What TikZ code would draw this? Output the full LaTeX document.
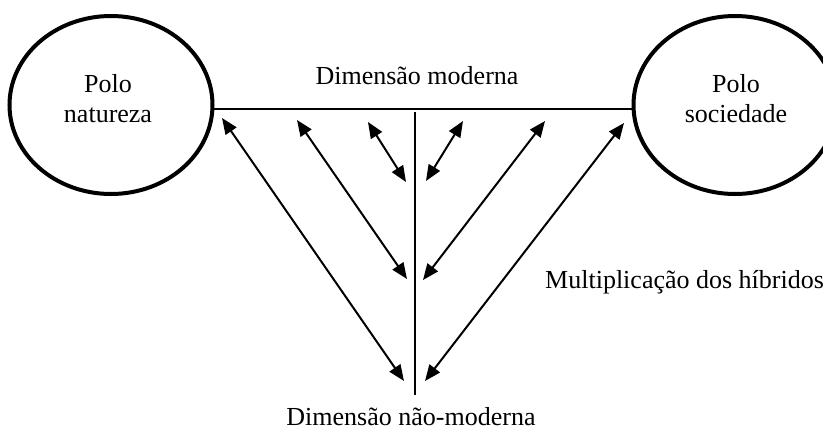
\documentclass[tikz,border=0pt]{standalone}
\usepackage{fontspec}
\setmainfont{Liberation Serif}
\usepackage{tikz}
\usetikzlibrary{shapes.geometric, arrows.meta, positioning, calc}
\tikzset{
    polo/.style={
        ellipse, draw, line width=4pt,
        minimum width=203pt, minimum height=178pt, inner sep=0pt
    },
    rotulo/.style={font=\fontsize{26}{30}\selectfont, align=center, inner sep=0pt},
    eixo/.style={draw, line width=2.4pt},
    hibrido/.style={line width=2pt, {Triangle[length=16pt,width=13pt]}-{Triangle[length=16pt,width=13pt]}}
}
\begin{document}
\begin{tikzpicture}[x=1pt, y=-1pt]
        \clip (0,0) rectangle (823,432);
        \node[polo] (natureza) at (111,105) {};
        \node[polo] (sociedade) at (735,105) {};
        \node[rotulo] (txtnatureza) at (108,99) {Polo\\natureza};
        \node[rotulo] (txtsociedade) at (736,99) {Polo\\sociedade};
        \node[rotulo, anchor=base] (moderna) at (417,84) {Dimensão moderna};
        \node[rotulo, anchor=base] (naomoderna) at (411,425) {Dimensão não-moderna};
        \node[rotulo, anchor=base west] (hibridos) at (545,288) {Multiplicação dos híbridos};

        % eixos
        \coordinate (topo) at (415,112);
        \coordinate (base) at (415,395);
        \draw[eixo] ($(natureza.east)+(-1,4)$) -- ($(sociedade.west)+(1,4)$);
        \draw[eixo] (topo) -- (base);

        % hibridos
        \coordinate (e1) at (222,118);
        \coordinate (e2) at (297,120);
        \coordinate (e3) at (368,122);
        \coordinate (d3) at (463,121);
        \coordinate (d2) at (545,121);
        \coordinate (d1) at (624,123);
        \coordinate (e1b) at (404,381);
        \coordinate (e2b) at (407,279);
        \coordinate (e3b) at (406,182);
        \coordinate (d3b) at (426,181);
        \coordinate (d2b) at (423,280);
        \coordinate (d1b) at (425,381);
        \draw[hibrido] (e1) -- (e1b);
        \draw[hibrido] (e2) -- (e2b);
        \draw[hibrido] (e3) -- (e3b);
        \draw[hibrido] (d3) -- (d3b);
        \draw[hibrido] (d2) -- (d2b);
        \draw[hibrido] (d1) -- (d1b);
    \end{tikzpicture}
\end{document}
